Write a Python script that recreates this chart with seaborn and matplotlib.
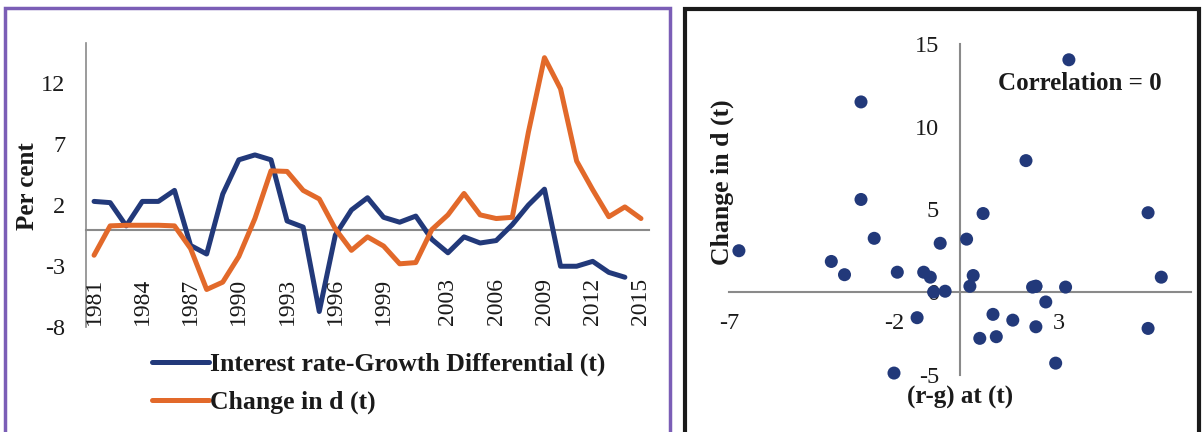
"""
Interest rate-growth differential vs change in debt ratio.

Left: both series over time. Right: scatter of one against the other.
"""

import matplotlib

matplotlib.use("Agg")
import matplotlib.pyplot as plt
import numpy as np
import pandas as pd
import seaborn as sns
from matplotlib.patches import Rectangle

# -------------------------------
# Data
# -------------------------------
YEARS = list(range(1981, 2016))

# (r-g) at (t), 1981-2014
RG_DIFF = [
    2.3, 2.2, 0.3, 2.3, 2.3, 3.2, -1.3, -2.0, 2.9, 5.7,
    6.1, 5.7, 0.7, 0.2, -6.7, -0.45, 1.6, 2.6, 1.0, 0.6,
    1.1, -0.8, -1.9, -0.6, -1.1, -0.9, 0.4, 2.0, 3.3, -3.0,
    -3.0, -2.6, -3.5, -3.9,
]

# change in d (t), 1981-2015
CHANGE_D = [
    -2.1, 0.3, 0.35, 0.35, 0.35, 0.3, -1.55, -4.9, -4.3, -2.2,
    0.9, 4.8, 4.75, 3.2, 2.5, 0.05, -1.7, -0.6, -1.35, -2.8,
    -2.7, 0.0, 1.2, 2.95, 1.2, 0.9, 1.0, 7.95, 14.05, 11.5,
    5.6, 3.25, 1.05, 1.85, 0.9,
]

YEAR_LABELS = [1981, 1984, 1987, 1990, 1993, 1996, 1999, 2003, 2006, 2009, 2012, 2015]
LEFT_YTICKS = [-8, -3, 2, 7, 12]
RIGHT_XTICKS = [-7, -2, 3]
RIGHT_YTICKS = [-5, 0, 5, 10, 15]

NAVY = "#22397a"
ORANGE = "#e2692a"
AXIS_GREY = "#8a8a8a"
TEXT = "#1a1a1a"

# -------------------------------
# Style
# -------------------------------
sns.set_style("white")
plt.rcParams["font.family"] = ["Liberation Serif", "DejaVu Serif"]
plt.rcParams["axes.unicode_minus"] = False
plt.rcParams["text.color"] = TEXT
plt.rcParams["xtick.labelcolor"] = TEXT
plt.rcParams["ytick.labelcolor"] = TEXT

fig = plt.figure(figsize=(12.03, 4.32), dpi=100)

# -------------------------------
# Left panel: time series
# -------------------------------
ax1 = fig.add_axes([0.0715, 0.2421, 0.468, 0.6584])

rg_df = pd.DataFrame({"year": YEARS[: len(RG_DIFF)], "value": RG_DIFF})
dd_df = pd.DataFrame({"year": YEARS, "value": CHANGE_D})

sns.lineplot(data=rg_df, x="year", y="value", ax=ax1, color=NAVY, linewidth=3.6,
             label="Interest rate-Growth Differential (t)", zorder=3)
sns.lineplot(data=dd_df, x="year", y="value", ax=ax1, color=ORANGE, linewidth=3.6,
             label="Change in d (t)", zorder=3)

ax1.set_xlim(1980.5, 2015.5)
ax1.set_ylim(-8, 15.25)
ax1.set_xlabel("")
ax1.set_ylabel("")

for side in ["top", "right"]:
    ax1.spines[side].set_visible(False)
ax1.spines["bottom"].set_position(("data", 0))
ax1.spines["bottom"].set_color(AXIS_GREY)
ax1.spines["bottom"].set_linewidth(1.5)
ax1.spines["left"].set_color(AXIS_GREY)
ax1.spines["left"].set_linewidth(1.2)

ax1.set_xticks(np.arange(1983.5, 2015, 3))
ax1.set_xticklabels([])
ax1.tick_params(axis="x", direction="out", length=4, color=AXIS_GREY, width=1.2)
ax1.set_yticks(LEFT_YTICKS)
ax1.tick_params(axis="y", direction="out", length=5, color=AXIS_GREY, width=1.2,
                labelsize=17.5, pad=10)

for yr in YEAR_LABELS:
    ax1.text(yr, -3.95, str(yr), rotation=90, ha="center", va="top", fontsize=17)

fig.text(28 / 1203, (432 - 186) / 432, "Per cent", rotation=90, ha="center",
         va="center", fontsize=18, fontweight="bold")

ax1.legend(loc="upper left", bbox_to_anchor=(152 / 1203, 0.183),
           bbox_transform=fig.transFigure, frameon=False, borderpad=0,
           borderaxespad=0, handlelength=2.2, handletextpad=0.05,
           labelspacing=0.55, prop={"weight": "bold", "size": 18.5})

# -------------------------------
# Right panel: scatter
# -------------------------------
ax2 = fig.add_axes([0.606, 0.1326, 0.384, 0.7654])

sns.scatterplot(x=RG_DIFF, y=CHANGE_D[: len(RG_DIFF)], ax=ax2, color=NAVY,
                s=88, edgecolor="none", zorder=3, clip_on=False)

ax2.set_xlim(-7, 7)
ax2.set_ylim(-5, 15)
for side in ["top", "right"]:
    ax2.spines[side].set_visible(False)
for side in ["left", "bottom"]:
    ax2.spines[side].set_position(("data", 0))
    ax2.spines[side].set_color(AXIS_GREY)
    ax2.spines[side].set_linewidth(1.5)

ax2.set_xticks(RIGHT_XTICKS)
ax2.set_yticks(RIGHT_YTICKS)
ax2.tick_params(axis="x", direction="out", length=4, color=AXIS_GREY, width=1.2,
                labelsize=17.5, pad=11)
ax2.tick_params(axis="y", direction="out", length=5, color=AXIS_GREY, width=1.2,
                labelsize=17.5, pad=10)

fig.text(0.8978, (432 - 83) / 432, "Correlation = 0", ha="center", va="center",
         fontsize=18, fontweight="bold")
fig.text(960 / 1203, (432 - 397) / 432, "(r-g) at (t)", ha="center", va="center",
         fontsize=18, fontweight="bold")
fig.text(722 / 1203, (432 - 182) / 432, "Change in d (t)", rotation=90, ha="center",
         va="center", fontsize=18.5, fontweight="bold")

# -------------------------------
# Panel borders
# -------------------------------
fig.add_artist(Rectangle((0.0042, -0.05), 0.5528, 1.0315, transform=fig.transFigure,
                         fill=False, edgecolor="#7b5eb6", linewidth=2.5))
fig.add_artist(Rectangle((0.5694, -0.05), 0.4273, 1.029, transform=fig.transFigure,
                         fill=False, edgecolor="#1a1a1a", linewidth=3))

fig.savefig("out.png", dpi=100)
